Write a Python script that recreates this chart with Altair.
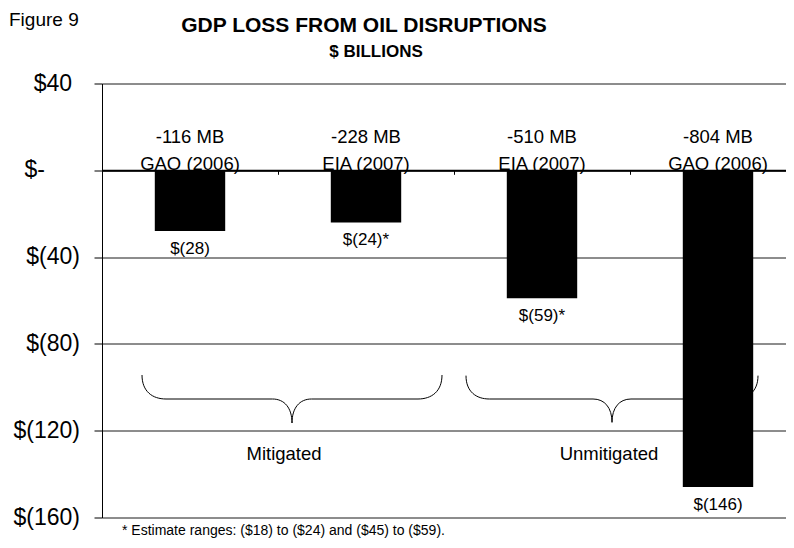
import altair as alt
import pandas as pd

# ---- data ----
volumes = ["-116 MB", "-228 MB", "-510 MB", "-804 MB"]
sources = ["GAO (2006)", "EIA (2007)", "EIA (2007)", "GAO (2006)"]
values = [-28, -24, -59, -146]
value_labels = ["$(28)", "$(24)*", "$(59)*", "$(146)"]
groups = ["Mitigated", "Unmitigated"]
y_ticks = [40, 0, -40, -80, -120, -160]
title_text = "GDP LOSS FROM OIL DISRUPTIONS"
subtitle_text = "$ BILLIONS"
figure_text = "Figure 9"
footnote_text = "* Estimate ranges: ($18) to ($24) and ($45) to ($59)."

FONT = "Liberation Sans"

df = pd.DataFrame({"volume": volumes, "source": sources,
                   "value": values, "label": value_labels})


def acct(v):
    if v == 0:
        return "$-"
    if v > 0:
        return f"${v}"
    return f"$({abs(v)})"


tick_df = pd.DataFrame({"value": y_ticks, "text": [acct(v) for v in y_ticks]})

x_enc = alt.X(
    "volume:N", sort=volumes,
    scale=alt.Scale(range=[0, 704], paddingInner=0, paddingOuter=0),
    axis=alt.Axis(orient="bottom", offset=-347.2, labels=False, title=None,
                  domainColor="black", domainWidth=2, tickColor="black",
                  tickSize=4, tickWidth=1, bandPosition=0, grid=False, zindex=1),
)

y_scale = alt.Scale(domain=[-160, 40], nice=False)
y_enc = alt.Y(
    "value:Q", scale=y_scale,
    axis=alt.Axis(values=y_ticks, labels=False, title=None, grid=True,
                  gridColor="#1a1a1a", gridWidth=1, domainColor="black",
                  tickColor="black", tickSize=8),
)

bars = alt.Chart(df).mark_bar(color="black", width=alt.RelativeBandSize(0.4)).encode(
    x=x_enc, y=y_enc)

line1 = alt.Chart(df).mark_text(font=FONT, fontSize=18.5, baseline="alphabetic",
                                dy=-27, color="black").encode(
    x=x_enc, y=alt.datum(0), text="volume:N")
line2 = alt.Chart(df).mark_text(font=FONT, fontSize=18.5, baseline="alphabetic",
                                dy=0, color="black").encode(
    x=x_enc, y=alt.datum(0), text="source:N")
vals = alt.Chart(df).mark_text(font=FONT, fontSize=17, baseline="top",
                               dy=10, color="black").encode(
    x=x_enc, y=y_enc, text="label:N")

# accounting-style y labels: ")" column for negatives, narrower for others
tick_layers = []
for test, right in [("datum.value < 0", -22), ("datum.value > 0", -30),
                    ("datum.value == 0", -57)]:
    tick_layers.append(
        alt.Chart(tick_df).transform_filter(test).mark_text(
            font=FONT, fontSize=23, align="right", baseline="middle",
            color="black").encode(
            x=alt.value(right), y=alt.Y("value:Q", scale=y_scale), text="text:N"))

BRACE = ("M -1 -0.16 C -1 -0.05 -0.93 0 -0.84 0 L -0.13 0 "
         "C -0.05 0 0 0.06 0 0.16 C 0 0.06 0.05 0 0.13 0 "
         "L 0.84 0 C 0.93 0 1 -0.05 1 -0.16")

brace_layers = []
group_layers = []
for g, bx, bsize, tx in zip(groups, [190, 510], [90000, 85264], [182, 507]):
    gdf = pd.DataFrame({"group": [g]})
    brace_layers.append(
        alt.Chart(gdf).mark_point(shape=BRACE, filled=False, size=bsize,
                                  color="black", strokeWidth=1, opacity=1).encode(
            x=alt.value(bx), y=alt.value(315.5)))
    group_layers.append(
        alt.Chart(gdf).mark_text(font=FONT, fontSize=18.5, align="center",
                                 baseline="alphabetic", color="black").encode(
            x=alt.value(tx), y=alt.value(376.5), text="group:N"))


def text_layer(txt, x, y, size, align="center", weight="normal"):
    return alt.Chart(pd.DataFrame({"t": [txt]})).mark_text(
        font=FONT, fontSize=size, align=align, baseline="alphabetic",
        fontWeight=weight, color="black").encode(
        x=alt.value(x), y=alt.value(y), text="t:N")


title_l = text_layer(title_text, 262, -52, 21, weight="bold")
sub_l = text_layer(subtitle_text, 274, -26.5, 17, weight="bold")
fig_l = text_layer(figure_text, -93, -57.5, 19, align="left")
foot_l = text_layer(footnote_text, 20, 451.5, 14, align="left")

chart = alt.layer(
    *brace_layers, bars, line1, line2, vals, *tick_layers, *group_layers,
    title_l, sub_l, fig_l, foot_l,
).properties(
    width=684, height=434,
    autosize=alt.AutoSizeParams(type="none"),
    padding={"left": 94, "top": 75.5, "right": 0, "bottom": 22.5},
).configure(font=FONT, background="white").configure_view(stroke=None)

chart.save("out.html", embed_options={"renderer": "svg", "actions": False})
